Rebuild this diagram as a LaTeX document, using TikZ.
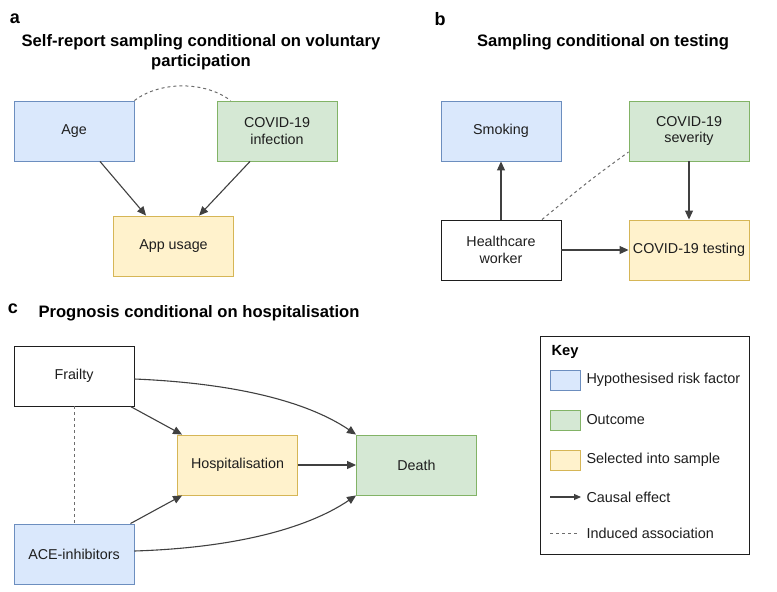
\documentclass[tikz,border=0pt]{standalone}
\usepackage{fontspec}
\setmainfont{Liberation Sans}
\usetikzlibrary{arrows.meta,calc}
\definecolor{bfill}{HTML}{DAE8FC}\definecolor{bline}{HTML}{6C8EBF}
\definecolor{gfill}{HTML}{D5E8D4}\definecolor{gline}{HTML}{82B366}
\definecolor{yfill}{HTML}{FFF2CC}\definecolor{yline}{HTML}{D6B656}
\definecolor{ink}{HTML}{1E1E1E}
\tikzset{
  box/.style={draw, minimum width=120pt, minimum height=60pt, inner sep=2pt, align=center, font=\fontsize{14.3}{16.5}\selectfont, text=ink, line width=0.9pt},
  bluebox/.style={box, fill=bfill, draw=bline},
  greenbox/.style={box, fill=gfill, draw=gline},
  yellowbox/.style={box, fill=yfill, draw=yline},
  whitebox/.style={box, fill=white, draw=ink},
  causal/.style={draw=ink!85, line width=1.1pt, -{Triangle[length=9pt,width=8pt]}},
  induced/.style={draw=ink!65, line width=1pt, dash pattern=on 3pt off 3pt},
  title/.style={font=\fontsize{16.6}{19.5}\selectfont\bfseries, text=black, align=center},
  panel/.style={font=\fontsize{18}{19}\selectfont\bfseries, text=black},
  keytext/.style={anchor=west, font=\fontsize{14.4}{16.5}\selectfont, text=ink},
  swatch/.style={draw, minimum width=30pt, minimum height=20pt, inner sep=0pt, line width=0.9pt}
}
\begin{document}
\begin{tikzpicture}[x=1pt,y=-1pt]
\useasboundingbox (0,0) rectangle (777,592);
% Panel a
\node[panel] (la) at (15,19) {a};
\node[title] (ta) at (201,52) {Self-report sampling conditional on voluntary\\participation};
\node[bluebox] (age) at (74,131) {Age};
\node[greenbox] (inf) at (277,131) {COVID-19\\infection};
\node[yellowbox] (app) at (173.5,246) {App usage};
\draw[causal] ($(age.south)+(26,0)$) -- ($(app.north west)+(33,0)$);
\draw[causal] ($(inf.south)+(-27,0)$) -- ($(app.north west)+(86,0)$);
\draw[induced] (age.north east) .. controls (160,81) and (205,81) .. ($(inf.north west)+(14,0)$);
% Panel b
\node[panel] (lb) at (440,19) {b};
\node[title] (tb) at (603,42) {Sampling conditional on testing};
\node[bluebox] (smk) at (501,131) {Smoking};
\node[greenbox] (sev) at (689,131) {COVID-19\\severity};
\node[whitebox] (hcw) at (501,250) {Healthcare\\worker};
\node[yellowbox] (tst) at (689,250) {COVID-19 testing};
\draw[causal] (hcw) -- (smk);
\draw[causal] (sev) -- (tst);
\draw[causal] (hcw) -- (tst);
\draw[induced] ($(hcw.north)+(41,0)$) .. controls (590,180) .. ($(sev.west)+(0,21)$);
% Panel c
\node[panel] (lc) at (13,309) {c};
\node[title, anchor=west] (tc) at (35,313) {Prognosis conditional on hospitalisation};
\node[whitebox] (fra) at (74,376) {Frailty};
\node[bluebox] (ace) at (74,554) {ACE-inhibitors};
\node[yellowbox] (hos) at (237.5,465) {Hospitalisation};
\node[greenbox] (dth) at (416.5,465) {Death};
\draw[induced] (fra) -- (ace);
\draw[causal] ($(fra.south east)+(-4,0)$) -- ($(hos.north west)+(5,0)$);
\draw[causal] ($(ace.north east)+(-4,0)$) -- ($(hos.south west)+(5,0)$);
\draw[causal] (hos) -- (dth);
\draw[causal] ($(fra.east)+(0,3)$) .. controls (230,383) and (305,400) .. (dth.north west);
\draw[causal] ($(ace.east)+(0,-3)$) .. controls (230,548) and (305,530) .. (dth.south west);
% Key
\node[draw=ink, line width=0.9pt, minimum width=209pt, minimum height=218pt, inner sep=0pt] (key) at (644.5,445) {};
\node[anchor=west, font=\fontsize{14.7}{16.5}\selectfont\bfseries] (kt) at (548,352) {Key};
\node[swatch, fill=bfill, draw=bline] (s1) at (565,380) {};
\node[swatch, fill=gfill, draw=gline] (s2) at (565,420) {};
\node[swatch, fill=yfill, draw=yline] (s3) at (565,460) {};
\node[keytext] (k1) at (583,380) {Hypothesised risk factor};
\node[keytext] (k2) at (583,420) {Outcome};
\node[keytext] (k3) at (583,460) {Selected into sample};
\coordinate (c1) at (550,497);
\node[keytext] (k4) at (583,497) {Causal effect};
\draw[causal, -{Triangle[length=7pt,width=6pt]}, shorten >=2pt] (c1) -- (k4.west);
\coordinate (d1) at (550,533);
\node[keytext] (k5) at (583,533) {Induced association};
\draw[induced, shorten >=6pt] (d1) -- (k5.west);
\end{tikzpicture}
\end{document}
